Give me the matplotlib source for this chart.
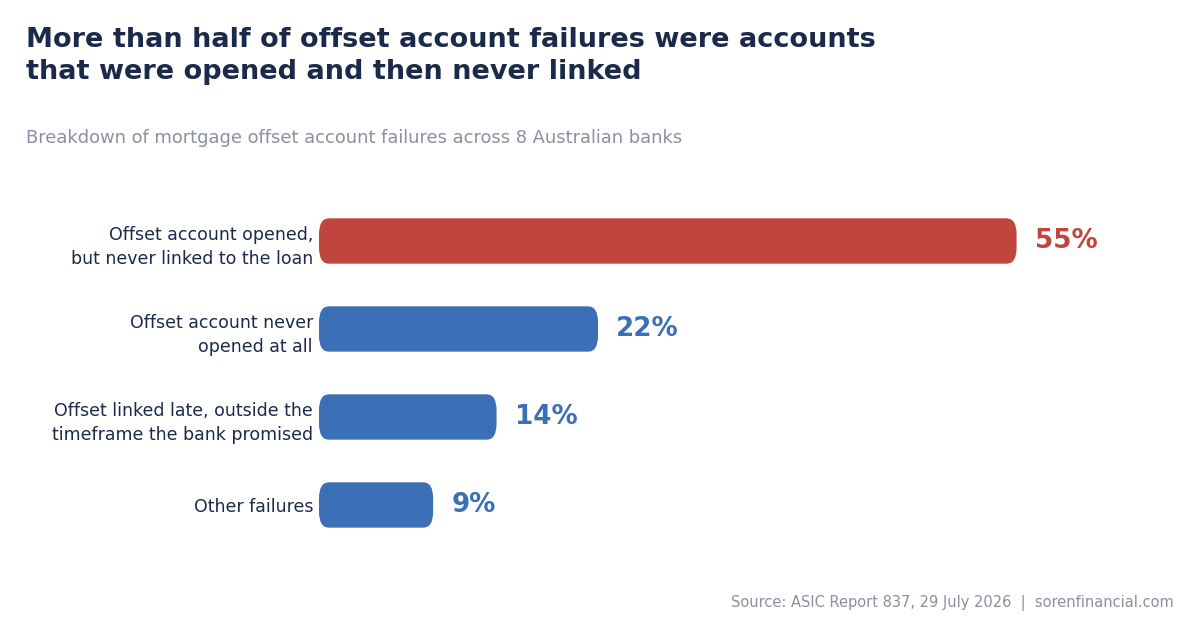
import matplotlib.pyplot as plt
from matplotlib.patches import FancyBboxPatch

categories = [
    "Offset account opened,\nbut never linked to the loan",
    "Offset account never\nopened at all",
    "Offset linked late, outside the\ntimeframe the bank promised",
    "Other failures",
]
values = [55, 22, 14, 9]
colors = ["#c0463d", "#3b6fb6", "#3b6fb6", "#3b6fb6"]

NAVY = "#1b2a4a"
GREY = "#8a90a0"

fig = plt.figure(figsize=(12, 6.3), dpi=100)
fig.patch.set_facecolor("white")

# axes placed so the bar area lines up with the reference
ax = fig.add_axes([319 / 1200, 81 / 630, 761 / 1200, 352 / 630])
ax.set_xlim(0, 60)
ax.set_ylim(len(values) - 0.5, -0.5)
ax.axis("off")

# pixel -> data scale; the bar ends are slightly elliptical
px_x = (761 / 60)
px_y = 352 / len(values)
rx, ry = 10, 16
bar_h = 0.515

for i, (v, c) in enumerate(zip(values, colors)):
    patch = FancyBboxPatch(
        (0, i - bar_h / 2), v, bar_h,
        boxstyle=f"round,pad=0,rounding_size={rx / px_x}",
        mutation_aspect=(ry / px_y) / (rx / px_x),
        facecolor=c, edgecolor="none",
    )
    ax.add_patch(patch)
    ax.text(v + 18 / px_x, i, f"{v}%", color=c, fontsize=18.8,
            fontweight="bold", va="center", ha="left")
    nlines = categories[i].count("\n") + 1
    shift = (2 + 4 * (nlines - 1)) / px_y
    ax.text(-6 / px_x, i + shift, categories[i], color=NAVY, fontsize=12.5,
            va="center", ha="right", linespacing=1.5)

fig.text(26 / 1200, 1 - 27 / 630,
         "More than half of offset account failures were accounts\n"
         "that were opened and then never linked",
         fontsize=19.5, fontweight="bold", color=NAVY, va="top", ha="left",
         linespacing=1.32)
fig.text(26 / 1200, 1 - 138 / 630,
         "Breakdown of mortgage offset account failures across 8 Australian banks",
         fontsize=12.9, color=GREY, va="center", ha="left")
fig.text(1174 / 1200, 1 - 603 / 630,
         "Source: ASIC Report 837, 29 July 2026  |  sorenfinancial.com",
         fontsize=10.5, color=GREY, va="center", ha="right")

fig.savefig("out.png", dpi=100, facecolor="white")
